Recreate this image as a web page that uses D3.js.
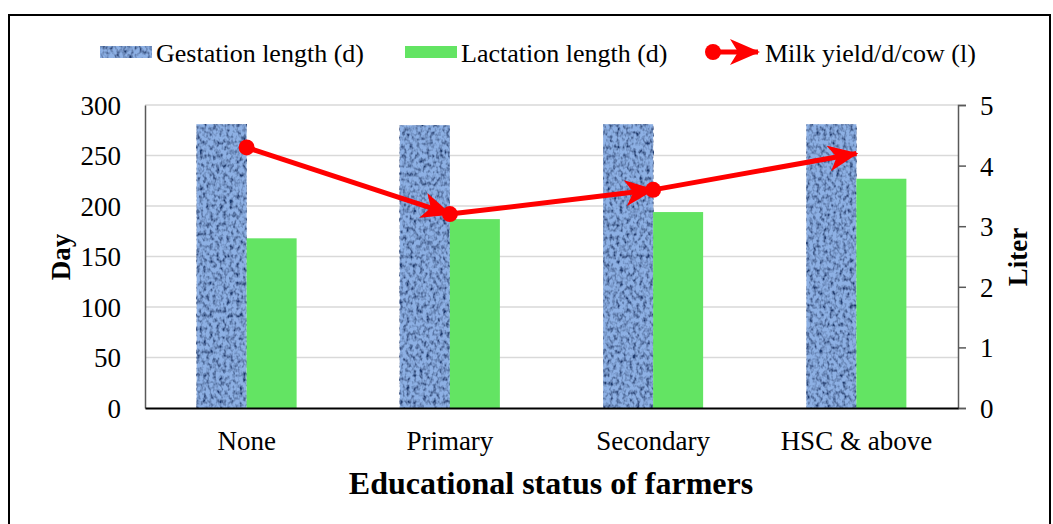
<!DOCTYPE html>
<html><head><meta charset="utf-8">
<script src="https://cdn.jsdelivr.net/npm/d3@7"></script>
<style>body{margin:0;background:#fff}svg{display:block}text{font-family:"Liberation Serif","Times New Roman",serif;fill:#000}</style>
</head><body><svg id="c" width="1053" height="524"></svg>
<script>
const categories = ["None","Primary","Secondary","HSC & above"];
const gestation = [281, 280, 281, 281];
const lactation = [168, 187, 194, 227];
const milk = [4.3, 3.2, 3.6, 4.2];
const leftTicks = [0,50,100,150,200,250,300];
const rightTicks = [0,1,2,3,4,5];
const seriesNames = ["Gestation length (d)","Lactation length (d)","Milk yield/d/cow (l)"];

const svg = d3.select("#c");
const m = {l:145, r:958, t:105, b:408};
const defs = svg.append("defs");
const f = defs.append("filter").attr("id","denim").attr("x",0).attr("y",0).attr("width",1).attr("height",1);
f.append("feTurbulence").attr("type","fractalNoise").attr("baseFrequency","0.3 0.22").attr("numOctaves",2).attr("seed",3).attr("result","n");
f.append("feColorMatrix").attr("in","n").attr("type","matrix")
 .attr("values","0 0 0 0 0  0 0 0 0 0  0 0 0 0 0  0 0 0 -2.4 1.45").attr("result","a");
f.append("feFlood").attr("flood-color","#1d3a70").attr("result","dk");
f.append("feComposite").attr("in","dk").attr("in2","a").attr("operator","in").attr("result","spots");
f.append("feMerge").selectAll("feMergeNode").data(["SourceGraphic","spots"]).enter().append("feMergeNode").attr("in",d=>d);
defs.append("marker").attr("id","arr").attr("viewBox","0 0 30 26").attr("refX",28).attr("refY",13)
 .attr("markerWidth",30).attr("markerHeight",26).attr("markerUnits","userSpaceOnUse").attr("orient","auto")
 .append("path").attr("d","M0,0 L30,13 L0,26 L8,13 Z").attr("fill","#ff0000");

// border
svg.append("path").attr("d","M9,530 V15 H1050 V530").attr("fill","none").attr("stroke","#000").attr("stroke-width",2);

const x = d3.scaleBand().domain(categories).range([m.l,m.r]);
const y = d3.scaleLinear().domain([0,300]).range([m.b,m.t]);
const y2 = d3.scaleLinear().domain([0,5]).range([m.b,m.t]);
const bw = 50;

// grid
svg.append("g").selectAll("line").data(leftTicks.slice(1)).enter().append("line")
 .attr("x1",m.l).attr("x2",m.r).attr("y1",d=>y(d)).attr("y2",d=>y(d)).attr("stroke","#d9d9d9").attr("stroke-width",1.5);

// bars
const cx = c => x(c)+x.bandwidth()/2;
svg.append("g").selectAll("rect").data(categories).enter().append("rect")
 .attr("x",c=>cx(c)-bw).attr("width",bw).attr("y",(c,i)=>y(gestation[i])).attr("height",(c,i)=>m.b-y(gestation[i]))
 .attr("fill","#8db0e4").attr("filter","url(#denim)");
svg.append("g").selectAll("rect").data(categories).enter().append("rect")
 .attr("x",c=>cx(c)).attr("width",bw).attr("y",(c,i)=>y(lactation[i])).attr("height",(c,i)=>m.b-y(lactation[i]))
 .attr("fill","#63e463");

// axes
const fs = 27;
const gl = svg.append("g").attr("transform",`translate(${m.l},0)`).call(d3.axisLeft(y).tickValues(leftTicks).tickSize(0).tickPadding(24));
gl.select(".domain").attr("stroke","#595959").attr("stroke-width",1.5);
gl.selectAll("text").attr("font-size",fs).attr("font-family","Liberation Serif").attr("dy","0.35em");
const gr = svg.append("g").attr("transform",`translate(${m.r},0)`).call(d3.axisRight(y2).tickValues(rightTicks).tickSize(8).tickPadding(14).tickFormat(d3.format("d")));
gr.select(".domain").attr("stroke","#595959").attr("stroke-width",1.5);
gr.selectAll(".tick line").attr("stroke","#595959").attr("stroke-width",1.5);
gr.selectAll("text").attr("font-size",fs).attr("font-family","Liberation Serif").attr("dy","0.35em");
const gb = svg.append("g").attr("transform",`translate(0,${m.b})`).call(d3.axisBottom(x).tickSize(0).tickPadding(23));
gb.select(".domain").attr("stroke","#000").attr("stroke-width",2);
gb.selectAll("text").attr("font-size",fs).attr("font-family","Liberation Serif").attr("dy","0.71em");
svg.selectAll(".tick text").attr("fill","#000");

// milk line
const pts = categories.map((c,i)=>[cx(c), y2(milk[i])]);
for(let i=0;i<pts.length-1;i++){
  svg.append("line").attr("x1",pts[i][0]).attr("y1",pts[i][1]).attr("x2",pts[i+1][0]).attr("y2",pts[i+1][1])
   .attr("stroke","#ff0000").attr("stroke-width",5).attr("marker-end","url(#arr)");
}
svg.append("g").selectAll("circle").data(pts.slice(0,3)).enter().append("circle")
 .attr("cx",d=>d[0]).attr("cy",d=>d[1]).attr("r",8).attr("fill","#ff0000");

// axis titles
svg.append("text").attr("transform","translate(70,257) rotate(-90)").attr("text-anchor","middle")
 .attr("font-size",27).attr("font-weight","bold").text("Day");
svg.append("text").attr("transform","translate(1027,257) rotate(-90)").attr("text-anchor","middle")
 .attr("font-size",27).attr("font-weight","bold").text("Liter");
svg.append("text").attr("x",551).attr("y",494).attr("text-anchor","middle")
 .attr("font-size",32).attr("font-weight","bold").text("Educational status of farmers");

// legend
const lg = svg.append("g");
lg.append("rect").attr("x",100).attr("y",46).attr("width",52).attr("height",12).attr("fill","#8db0e4").attr("filter","url(#denim)");
lg.append("text").attr("x",156).attr("y",62).attr("font-size",26).text(seriesNames[0]);
lg.append("rect").attr("x",405).attr("y",46).attr("width",52).attr("height",12).attr("fill","#63e463");
lg.append("text").attr("x",461).attr("y",62).attr("font-size",26).text(seriesNames[1]);
lg.append("line").attr("x1",711).attr("y1",52).attr("x2",758).attr("y2",52).attr("stroke","#ff0000").attr("stroke-width",5).attr("marker-end","url(#arr)");
lg.append("circle").attr("cx",713).attr("cy",52).attr("r",8).attr("fill","#ff0000");
lg.append("text").attr("x",765).attr("y",62).attr("font-size",26).text(seriesNames[2]);
</script></body></html>
